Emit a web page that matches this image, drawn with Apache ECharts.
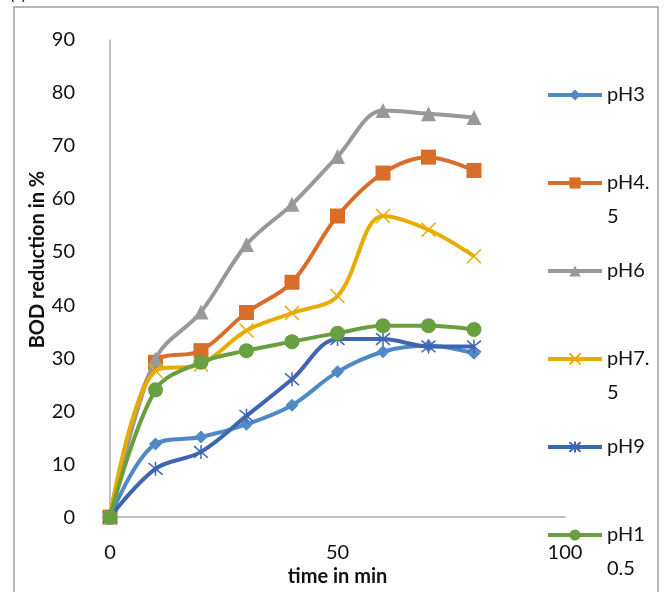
<!DOCTYPE html>
<html>
<head>
<meta charset="utf-8">
<script src="https://cdn.jsdelivr.net/npm/echarts@6/dist/echarts.min.js"></script>
<style>
html,body{margin:0;padding:0;background:#fff;}
#chart{width:664px;height:592px;}
</style>
</head>
<body>
<div id="chart"></div>
<script>
const times = [0, 10, 20, 30, 40, 50, 60, 70, 80];
const pH3 = [0, 13.8, 15.1, 17.5, 21.1, 27.4, 31.2, 32.3, 30.9];
const pH4_5 = [0, 29.2, 31.4, 38.6, 44.3, 56.8, 64.9, 67.9, 65.4];
const pH6 = [0, 29.8, 38.7, 51.4, 59.0, 68.0, 76.7, 76.1, 75.4];
const pH7_5 = [0, 27.6, 28.8, 35.2, 38.5, 41.7, 56.8, 54.2, 49.2];
const pH9 = [0, 9.1, 12.3, 19.1, 26.0, 33.6, 33.6, 32.2, 32.2];
const pH10_5 = [0, 24.0, 29.2, 31.4, 33.1, 34.7, 36.1, 36.1, 35.4];
const seriesNames = ['pH3', 'pH4.5', 'pH6', 'pH7.5', 'pH9', 'pH10.5'];
const legendLabels = ['pH3', 'pH4.\n5', 'pH6', 'pH7.\n5', 'pH9', 'pH1\n0.5'];
const xTicks = [0, 50, 100];
const yTicks = [0, 10, 20, 30, 40, 50, 60, 70, 80, 90];

const values = [pH3, pH4_5, pH6, pH7_5, pH9, pH10_5];
const colors = ['#4F8AC6', '#D96D2A', '#999999', '#E6AD00', '#3E65B1', '#68A03F'];
const xPath = 'path://M0,0L10,10M10,0L0,10';
const starPath = 'path://M0,0L10,10M10,0L0,10M5,-1L5,11';
const symbols = ['diamond', 'rect', 'triangle', xPath, starPath, 'circle'];
const sizes = [13, 15, 15, 14, 14, 15];

const font = 'Lato, "Open Sans", sans-serif';
const LH = 34;
const legendCenters = [95, 183, 271, 359, 447, 535];

const series = seriesNames.map((name, i) => {
  const isPath = symbols[i].startsWith('path://');
  return {
    name: name,
    type: 'line',
    smooth: 0.35,
    data: times.map((t, j) => [t, values[i][j]]),
    symbol: symbols[i],
    symbolSize: sizes[i],
    showAllSymbol: true,
    lineStyle: { color: colors[i], width: 4 },
    itemStyle: isPath
      ? { color: colors[i], borderColor: colors[i], borderWidth: 1.5 }
      : { color: colors[i], borderWidth: 0 },
    emphasis: { disabled: true },
    z: 2 + i
  };
});

const legends = seriesNames.map((name, i) => {
  const twoLine = legendLabels[i].indexOf('\n') >= 0;
  const text = twoLine ? '\n' + legendLabels[i] : legendLabels[i];
  const lines = text.split('\n').length;
  return {
    orient: 'vertical',
    left: 546,
    top: legendCenters[i] - lines * LH / 2,
    padding: 0,
    itemWidth: 54,
    itemHeight: 14,
    data: [name],
    formatter: function () { return text; },
    lineStyle: { width: 4 },
    textStyle: { fontSize: 20, lineHeight: LH, color: '#111', fontFamily: font }
  };
});

const chart = echarts.init(document.getElementById('chart'), null, { renderer: 'canvas' });
chart.setOption({
  animation: false,
  backgroundColor: '#ffffff',
  textStyle: { fontFamily: font },
  graphic: [
    { type: 'rect', shape: { x: 14, y: 7, width: 644, height: 620 },
      style: { fill: 'none', stroke: '#a0a0a0', lineWidth: 1.5 }, silent: true, z: -10 },
    { type: 'text', left: 10, top: -13,
      style: { text: '(a)', font: '16px ' + font, fill: '#222' }, silent: true }
  ],
  grid: { left: 110, right: 99, top: 40, bottom: 72, containLabel: false },
  legend: legends,
  xAxis: {
    type: 'value',
    min: xTicks[0],
    max: xTicks[xTicks.length - 1],
    interval: xTicks[1] - xTicks[0],
    name: 'time in min',
    nameLocation: 'middle',
    nameGap: 47,
    nameTextStyle: { fontSize: 20, fontWeight: 'bold', color: '#111', fontFamily: font },
    axisLine: { show: true, lineStyle: { color: '#ababab', width: 1.5 } },
    axisTick: { show: false },
    splitLine: { show: false },
    axisLabel: { fontSize: 20, color: '#111', margin: 25, fontFamily: font }
  },
  yAxis: {
    type: 'value',
    min: yTicks[0],
    max: yTicks[yTicks.length - 1],
    interval: yTicks[1] - yTicks[0],
    name: 'BOD reduction in %',
    nameLocation: 'middle',
    nameRotate: 90,
    nameGap: 62,
    nameMoveOverlap: false,
    nameTextStyle: { fontSize: 20, fontWeight: 'bold', color: '#111', fontFamily: font, padding: [0, 0, 0, 38] },
    axisLine: { show: true, lineStyle: { color: '#ababab', width: 1.5 } },
    axisTick: { show: false },
    splitLine: { show: false },
    axisLabel: { fontSize: 20, color: '#111', margin: 35, fontFamily: font }
  },
  series: series
});
</script>
</body>
</html>
